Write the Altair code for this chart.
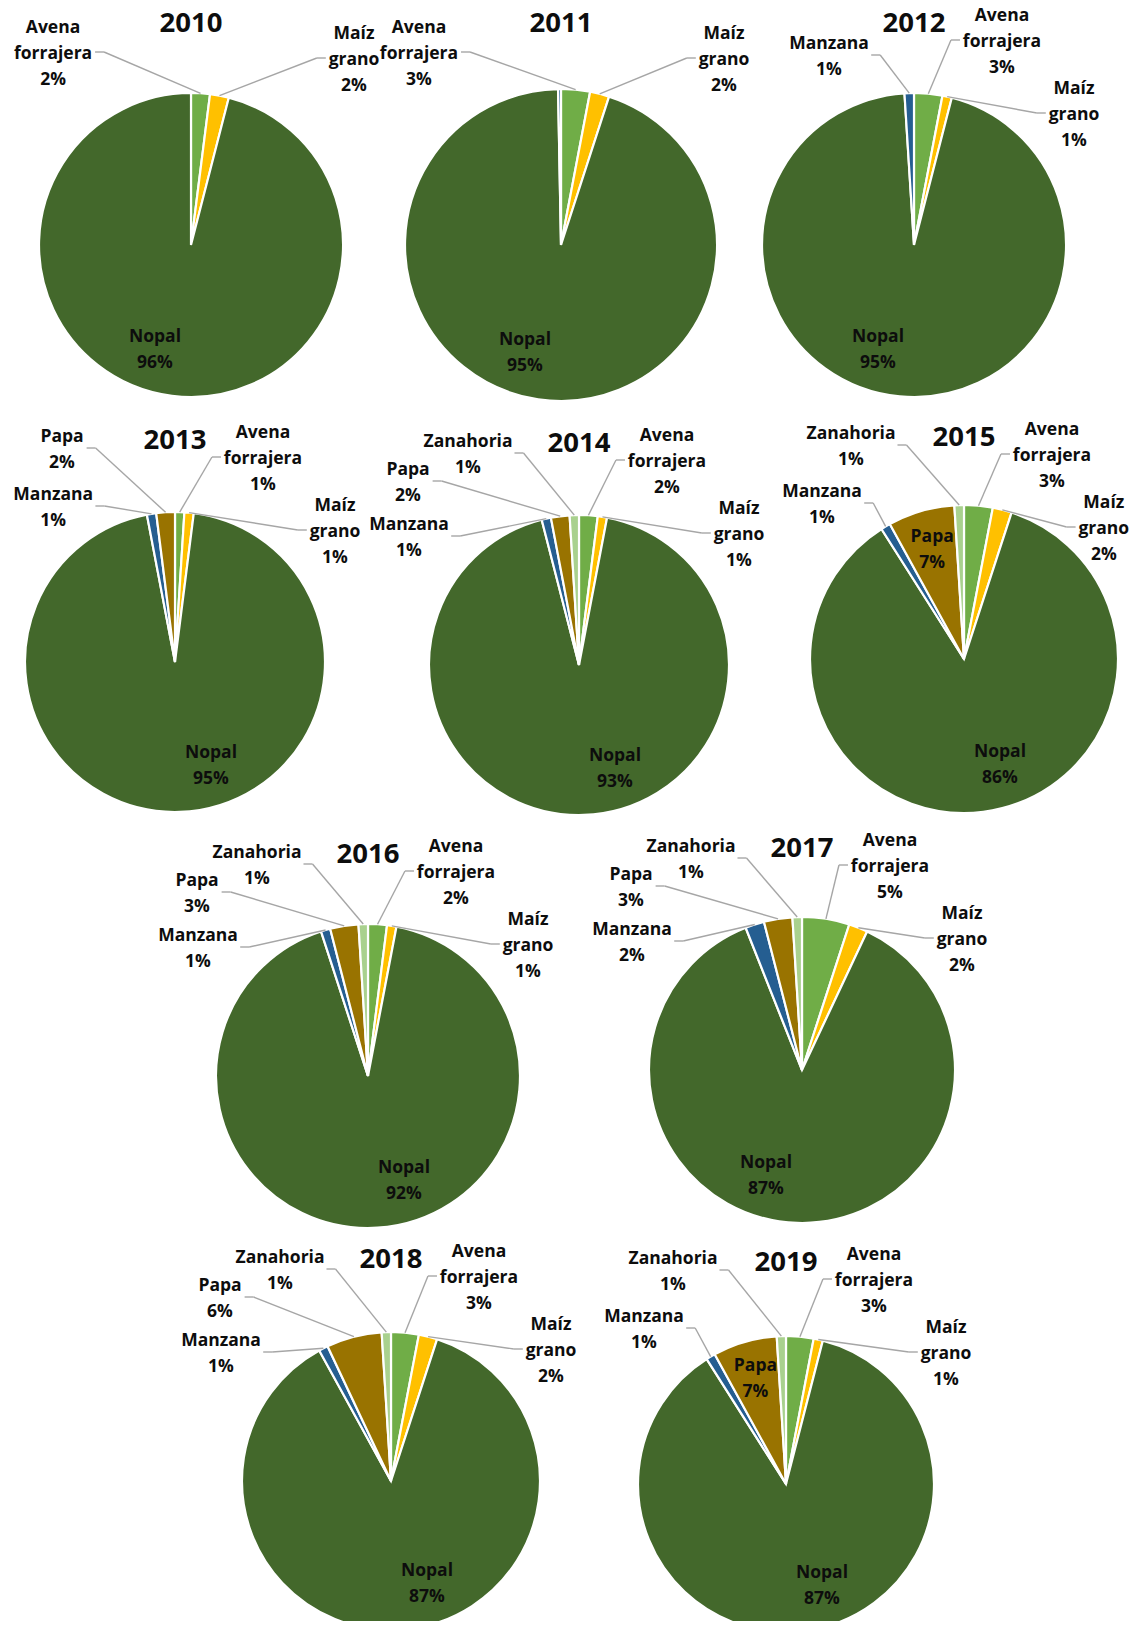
import math
import altair as alt
import pandas as pd

# ---------------- data (percent of area per crop) ----------------
YEARS = ["2010", "2011", "2012", "2013", "2014", "2015", "2016", "2017", "2018", "2019"]
# clockwise order from 12 o'clock
CROPS = ["Avena forrajera", "Maíz grano", "Nopal", "Manzana", "Papa", "Zanahoria"]
AVENA_FORRAJERA = [2, 3, 3, 1, 2, 3, 2, 5, 3, 3]
MAIZ_GRANO = [2, 2, 1, 1, 1, 2, 1, 2, 2, 1]
NOPAL = [96, 95, 95, 95, 93, 86, 92, 87, 87, 87]
MANZANA = [0, 0.3, 1, 1, 1, 1, 1, 2, 1, 1]
PAPA = [0, 0, 0, 2, 2, 7, 3, 3, 6, 7]
ZANAHORIA = [0, 0, 0, 0, 1, 1, 1, 1, 1, 1]
SERIES = {
    "Avena forrajera": AVENA_FORRAJERA,
    "Maíz grano": MAIZ_GRANO,
    "Nopal": NOPAL,
    "Manzana": MANZANA,
    "Papa": PAPA,
    "Zanahoria": ZANAHORIA,
}

# ---------------- style / layout ----------------
COLORS = ["#70AD47", "#FFC000", "#43682B", "#255E91", "#997300", "#A9D18E"]
W, H = 1125, 1613
PIE_CX = [183, 553, 906, 167, 571, 956, 360, 794, 383, 778]
PIE_CY = [237, 237, 237, 654, 657, 651, 1068, 1062, 1473, 1476]
PIE_R = [152, 156, 152, 150, 150, 154, 152, 153, 149, 148]
TITLE_GAP = 221
LH = 26            # label line height
FS = 17.5          # label font size
FONT = "Open Sans"
# label slots: offsets (dx, dy) of the label block centre from the pie centre
PAIR_SLOTS = [(-142, -191), (163, -185)]
RIGHT_SLOTS = [(88, -203), (160, -130)]
LEFT_SLOTS = {
    1: [(-85, -188)],
    2: [(-113, -212), (-142, -154)],
    3: [(-111, -210), (-171, -182), (-170, -127)],
}

# rough glyph advance widths (em) used only to attach leader lines to label edges
GLYPH_EM = {"i": .30, "í": .30, "j": .30, "l": .30, "f": .40, "r": .44, "t": .42,
            "M": .93, "m": .96, "Z": .57, "A": .70, "N": .78, "P": .64, "%": .88, "z": .50}


def text_width(s):
    return sum(GLYPH_EM.get(ch, .57 if ch.isdigit() else .61) for ch in s) * FS


slices, labels, lines, titles = [], [], [], []


def add_label(x, y, text):
    n = text.count("\n") + 1
    labels.append(dict(x=x, y=y - (n - 1) * LH / 2, text=text))


for i, yr in enumerate(YEARS):
    cx, cy, R = PIE_CX[i], PIE_CY[i], PIE_R[i]
    titles.append(dict(x=cx, y=cy - TITLE_GAP, text=yr))
    vals = [SERIES[c][i] for c in CROPS]
    total = sum(vals)
    cum = 0.0
    outside = []
    for c, v in zip(CROPS, vals):
        if v <= 0:
            continue
        t0 = cum / total * 100
        cum += v
        t1 = cum / total * 100
        slices.append(dict(year=yr, crop=c, t0=t0, t1=t1, cx=cx, cy=cy, r=R))
        if v < 0.5:
            continue
        mid = (t0 + t1) / 2 * 3.6
        a = math.radians(mid)
        text = "\n".join(c.split(" ") + [f"{v:g}%"])
        if c == "Nopal":
            side = 1 if math.sin(a) > 0.001 else -1
            add_label(cx + side * 36, cy + 0.69 * R, text)
        elif v >= 7:
            add_label(cx + 0.74 * R * math.sin(a), cy - 0.74 * R * math.cos(a), text)
        else:
            outside.append((c, mid, text))

    right = sorted([o for o in outside if o[1] < 180], key=lambda o: o[1])
    left = sorted([o for o in outside if o[1] >= 180], key=lambda o: -o[1])
    if not left and len(right) == 2:
        placed = list(zip(right, PAIR_SLOTS))
    else:
        placed = list(zip(right, RIGHT_SLOTS))
        if left:
            placed += list(zip(left, LEFT_SLOTS[len(left)]))

    for (c, mid, text), (dx, dy) in placed:
        hw = max(text_width(s) for s in text.split("\n")) / 2
        lx = min(max(cx + dx, hw + 6), W - hw - 4)
        ly = cy + dy
        add_label(lx, ly, text)
        m = math.radians(mid)
        ex, ey = cx + R * math.sin(m), cy - R * math.cos(m)
        side = 1 if dx > 0 else -1
        endx = lx - side * (hw + 3)
        elbx = endx - side * 9
        yl = ly - 2
        lines.append(dict(x=ex, y=ey, x2=elbx, y2=yl))
        lines.append(dict(x=elbx, y=yl, x2=endx, y2=yl))

df_slices = pd.DataFrame(slices)
df_labels = pd.DataFrame(labels)
df_lines = pd.DataFrame(lines)
df_titles = pd.DataFrame(titles)

XS = alt.Scale(domain=[0, W], nice=False, zero=False)
YS = alt.Scale(domain=[0, H], nice=False, zero=False, reverse=True)

arcs = alt.Chart(df_slices).mark_arc(stroke="white", strokeWidth=2.2).encode(
    x=alt.X("cx:Q", scale=XS, axis=None),
    y=alt.Y("cy:Q", scale=YS, axis=None),
    theta=alt.Theta("t0:Q", scale=alt.Scale(domain=[0, 100], range=[0, 2 * math.pi]), stack=False),
    theta2="t1:Q",
    radius=alt.Radius("r:Q", scale=None),
    color=alt.Color("crop:N", scale=alt.Scale(domain=CROPS, range=COLORS), legend=None),
)

rules = alt.Chart(df_lines).mark_rule(color="#A6A6A6", strokeWidth=1.4).encode(
    x=alt.X("x:Q", scale=XS, axis=None),
    y=alt.Y("y:Q", scale=YS, axis=None),
    x2="x2:Q",
    y2="y2:Q",
)

text = alt.Chart(df_labels).mark_text(
    font=FONT, fontWeight="bold", fontSize=FS, lineHeight=LH, lineBreak="\n",
    align="center", baseline="middle", color="#0D0D0D",
).encode(
    x=alt.X("x:Q", scale=XS, axis=None),
    y=alt.Y("y:Q", scale=YS, axis=None),
    text="text:N",
)

title_text = alt.Chart(df_titles).mark_text(
    font=FONT, fontWeight="bold", fontSize=27.5, align="center", baseline="middle", color="#0D0D0D",
).encode(
    x=alt.X("x:Q", scale=XS, axis=None),
    y=alt.Y("y:Q", scale=YS, axis=None),
    text="text:N",
)

chart = alt.layer(arcs, rules, text, title_text).properties(
    width=W, height=H, padding=0, autosize=alt.AutoSizeParams(type="none"),
    background="white",
).configure_view(stroke=None)

chart.save("out.html", embed_options={"renderer": "svg", "actions": False})
